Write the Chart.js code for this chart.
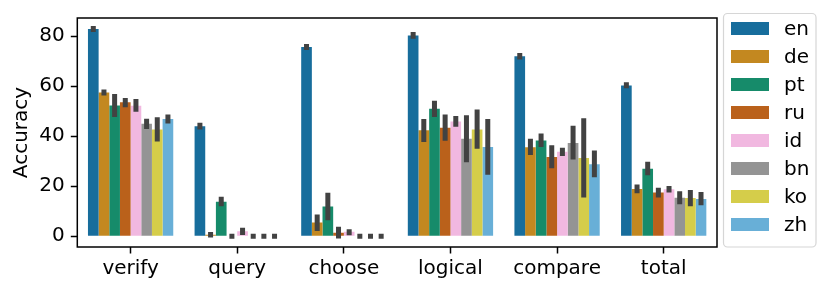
<!DOCTYPE html>
<html>
<head>
<meta charset="utf-8">
<script src="https://cdn.jsdelivr.net/npm/chart.js@4"></script>
<style>
  html, body { margin: 0; padding: 0; background: #fff; }
  #wrap { width: 830px; height: 293px; }
</style>
</head>
<body>
<div id="wrap"><canvas id="accChart"></canvas></div>
<script>
// --- DATA ---
const categories = ['verify', 'query', 'choose', 'logical', 'compare', 'total'];
const languages = ['en', 'de', 'pt', 'ru', 'id', 'bn', 'ko', 'zh'];
const yTicks = [0, 20, 40, 60, 80];

// mean accuracy per language, in category order
const en = [82.9, 44.0, 75.7, 80.3, 72.0, 60.3];
const de = [57.5, 0.6, 5.5, 42.4, 35.6, 18.9];
const pt = [52.3, 13.8, 11.9, 51.0, 38.3, 27.0];
const ru = [53.6, 0.0, 1.4, 43.4, 31.7, 17.5];
const id = [52.2, 2.0, 1.8, 45.9, 33.8, 18.8];
const bn = [45.0, 0.0, 0.0, 39.0, 37.3, 15.4];
const ko = [42.7, 0.0, 0.0, 42.7, 31.3, 15.3];
const zh = [46.9, 0.0, 0.0, 35.7, 28.8, 14.9];

// confidence intervals [low, high] per language
const enCI = [[82.7, 83.1], [43.7, 44.4], [75.5, 75.9], [80.0, 80.7], [71.7, 72.3], [60.2, 60.6]];
const deCI = [[57.3, 57.7], [0.5, 0.7], [3.1, 7.7], [38.7, 45.9], [33.5, 38.0], [18.2, 19.7]];
const ptCI = [[48.7, 55.9], [13.0, 14.8], [7.4, 16.4], [48.7, 53.2], [36.7, 40.1], [25.4, 28.8]];
const ruCI = [[52.6, 54.3], [0.0, 0.0], [0.1, 2.8], [39.2, 47.7], [28.2, 35.4], [16.5, 18.4]];
const idCI = [[50.8, 53.9], [1.5, 2.4], [1.4, 1.8], [44.8, 47.1], [33.1, 34.4], [18.5, 19.1]];
const bnCI = [[43.9, 46.0], [0.0, 0.0], [0.0, 0.0], [30.6, 47.4], [31.7, 43.2], [13.8, 17.0]];
const koCI = [[38.9, 46.6], [0.0, 0.0], [0.0, 0.0], [36.0, 49.7], [16.5, 46.2], [13.0, 17.5]];
const zhCI = [[46.1, 47.7], [0.0, 0.0], [0.0, 0.0], [25.6, 45.9], [24.6, 33.3], [13.4, 16.7]];

const means = [en, de, pt, ru, id, bn, ko, zh];
const intervals = [enCI, deCI, ptCI, ruCI, idCI, bnCI, koCI, zhCI];

// seaborn colorblind palette, desaturated like barplot does
const colors = ['#176d9c', '#c38820', '#168b6a', '#ba611b', '#f1b8e0', '#949494', '#d5cd4a', '#68afd7'];

Chart.defaults.font.family = '"DejaVu Sans", sans-serif';
Chart.defaults.font.size = 20;
Chart.defaults.color = '#000';

// error bars, drawn on top of the bars
const errorBars = {
    id: 'errorBars',
    afterDatasetsDraw(chart) {
        const ctx = chart.ctx;
        const y = chart.scales.y;
        const lw = 5;
        ctx.save();
        ctx.fillStyle = '#424242';
        chart.data.datasets.forEach((ds, i) => {
            const meta = chart.getDatasetMeta(i);
            meta.data.forEach((bar, j) => {
                const ci = intervals[i][j];
                const yHi = y.getPixelForValue(ci[1]);
                const yLo = y.getPixelForValue(ci[0]);
                ctx.fillRect(bar.x - lw / 2, yHi - lw / 2, lw, (yLo - yHi) + lw);
            });
        });
        ctx.restore();
    }
};

// full box around the axes plus the legend on the right
const frameAndLegend = {
    id: 'frameAndLegend',
    afterDraw(chart) {
        const ctx = chart.ctx;
        const a = chart.chartArea;
        ctx.save();
        ctx.strokeStyle = '#000';
        ctx.lineWidth = 1.5;
        ctx.strokeRect(a.left, a.top, a.right - a.left, a.bottom - a.top);

        // legend frame
        const lx = 723.5, ly = 13.5, lw = 92.5, lh = 233.5, r = 4;
        ctx.beginPath();
        ctx.roundRect(lx, ly, lw, lh, r);
        ctx.fillStyle = 'rgba(255,255,255,0.8)';
        ctx.fill();
        ctx.strokeStyle = '#d6d6d6';
        ctx.lineWidth = 1.2;
        ctx.stroke();

        ctx.font = '20px "DejaVu Sans", sans-serif';
        ctx.textBaseline = 'middle';
        ctx.textAlign = 'left';
        languages.forEach((lang, i) => {
            const cy = 28.5 + i * 28;
            ctx.fillStyle = colors[i];
            ctx.fillRect(731, cy - 6.5, 38, 13);
            ctx.fillStyle = '#000';
            ctx.fillText(lang, 784, cy + 1);
        });
        ctx.restore();
    }
};

const datasets = languages.map((lang, i) => ({
    label: lang,
    data: means[i],
    backgroundColor: colors[i],
    borderWidth: 0,
    categoryPercentage: 0.8,
    barPercentage: 1.0
}));

new Chart(document.getElementById('accChart'), {
    type: 'bar',
    data: { labels: categories, datasets: datasets },
    options: {
        responsive: true,
        maintainAspectRatio: false,
        animation: false,
        layout: { padding: { top: 13, right: 113, left: 0, bottom: 0 } },
        plugins: {
            legend: { display: false },
            tooltip: { enabled: false }
        },
        scales: {
            x: {
                grid: {
                    offset: false,
                    drawOnChartArea: false,
                    tickLength: 6.5,
                    tickWidth: 1.5,
                    tickColor: '#000'
                },
                border: { display: false },
                ticks: { padding: 3, maxRotation: 0 },
                afterFit(scale) { scale.height = 46; }
            },
            y: {
                min: -4.3,
                max: 87.3,
                grid: {
                    drawOnChartArea: false,
                    tickLength: 6.5,
                    tickWidth: 1.5,
                    tickColor: '#000'
                },
                border: { display: false },
                ticks: { padding: 6 },
                afterBuildTicks(scale) {
                    scale.ticks = yTicks.map(v => ({ value: v }));
                },
                title: {
                    display: true,
                    text: 'Accuracy',
                    padding: { top: 10, bottom: 0 }
                },
                afterFit(scale) { scale.width = 77.3; }
            }
        }
    },
    plugins: [errorBars, frameAndLegend]
});
</script>
</body>
</html>
